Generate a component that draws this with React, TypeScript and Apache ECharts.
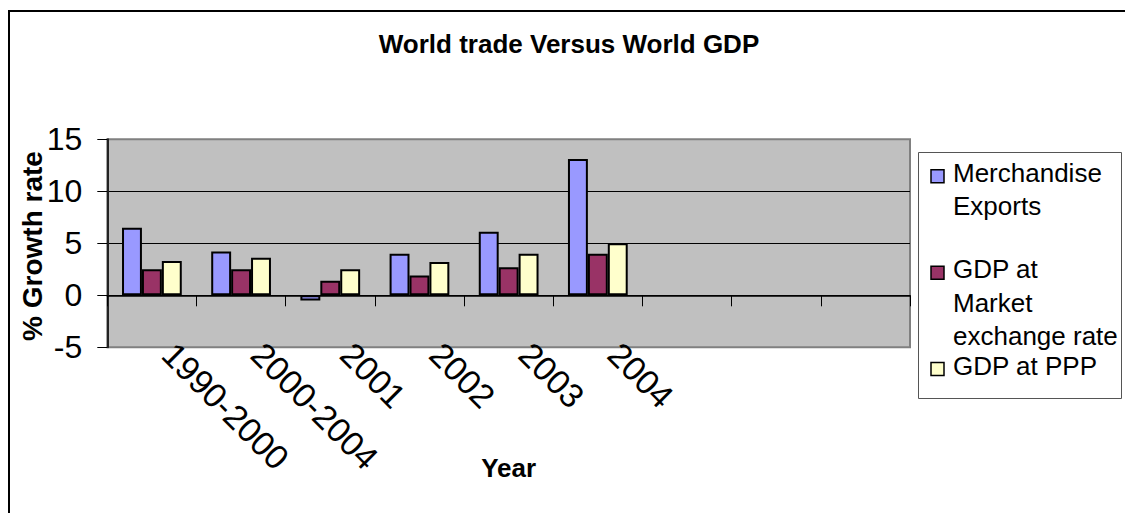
import React, { useEffect, useRef } from "react";
import * as echarts from "echarts";

// Growth rates (%) by period
const categories = ["1990-2000", "2000-2004", "2001", "2002", "2003", "2004", "", "", ""];
const merchandiseExports = [6.5, 4.2, -0.5, 4.0, 6.1, 13.1, null, null, null];
const gdpMarketRate = [2.5, 2.5, 1.4, 1.9, 2.7, 4.0, null, null, null];
const gdpPPP = [3.3, 3.6, 2.5, 3.2, 4.0, 5.0, null, null, null];

const seriesNames = ["Merchandise Exports", "GDP at Market exchange rate", "GDP at PPP"];
const legendLines = [["Merchandise", "Exports"], ["GDP at", "Market", "exchange rate"], ["GDP at PPP"]];
const seriesColors = ["#9999FF", "#993366", "#FFFFCC"];

const yTicks = [-5, 0, 5, 10, 15];

const FONT = "'Liberation Sans', Arial, Helvetica, sans-serif";

export default function App() {
  const ref = useRef<HTMLDivElement>(null);

  useEffect(() => {
    if (!ref.current) return;
    const chart = echarts.init(ref.current, null, { renderer: "svg" });

    const seriesData = [merchandiseExports, gdpMarketRate, gdpPPP];

    // Legend box drawn by hand: the swatch sits beside the first line of each entry
    const legendBaselines = [181.7, 278.3, 374.5];
    const legendLineStep = 33.5;
    const legendElements: any[] = [
      {
        type: "rect",
        shape: { x: 918.5, y: 152.5, width: 203, height: 246 },
        style: { fill: "#ffffff", stroke: "#555555", lineWidth: 1 },
        z: 10,
      },
    ];
    seriesNames.forEach((_, i) => {
      const b = legendBaselines[i];
      legendElements.push({
        type: "rect",
        shape: { x: 931, y: b - 12, width: 13, height: 13 },
        style: { fill: seriesColors[i], stroke: "#000000", lineWidth: 1.5 },
        z: 11,
      });
      legendLines[i].forEach((line, k) => {
        legendElements.push({
          type: "text",
          x: 953,
          y: b + k * legendLineStep - 9,
          style: {
            text: line,
            font: `26px ${FONT}`,
            fill: "#000000",
            lineHeight: 26,
            textAlign: "left",
            textVerticalAlign: "middle",
          },
          z: 11,
        });
      });
    });

    chart.setOption({
      animation: false,
      backgroundColor: "#ffffff",
      grid: {
        left: 107.3,
        top: 139.3,
        right: 215,
        bottom: 165.7,
        show: true,
        backgroundColor: "#C0C0C0",
        borderColor: "#808080",
        borderWidth: 2,
        containLabel: false,
        outerBoundsMode: "none",
      },
      xAxis: {
        type: "category",
        data: categories,
        boundaryGap: true,
        axisLine: { show: true, onZero: true, lineStyle: { color: "#000000", width: 1.5 } },
        axisTick: { show: true, inside: false, length: 11, alignWithLabel: false, lineStyle: { color: "#000000", width: 1 } },
        axisLabel: {
          rotate: -45,
          margin: 9,
          interval: 0,
          fontSize: 34,
          fontFamily: FONT,
          color: "#000000",
          align: "left",
          verticalAlign: "bottom",
          padding: [0, 0, 0, 6],
        },
        name: "Year",
        nameLocation: "middle",
        nameGap: 108,
        nameMoveOverlap: false,
        nameTextStyle: { fontSize: 26, fontWeight: "bold", fontFamily: FONT, color: "#000000" },
        splitLine: { show: false },
      },
      yAxis: {
        type: "value",
        min: yTicks[0],
        max: yTicks[yTicks.length - 1],
        interval: 5,
        axisLine: { show: true, lineStyle: { color: "#222222", width: 2 } },
        axisTick: { show: true, inside: false, length: 10, lineStyle: { color: "#000000", width: 1 } },
        axisLabel: { margin: 25, fontSize: 32, fontFamily: FONT, color: "#000000" },
        splitLine: {
          show: true,
          lineStyle: { color: ["#808080", "#000000", "#000000", "#000000", "#808080"], width: 1 },
        },
      },
      series: seriesNames.map((name, i) => ({
        name,
        type: "bar",
        data: seriesData[i],
        barGap: "0%",
        barCategoryGap: "33%",
        itemStyle: { color: seriesColors[i], borderColor: "#000000", borderWidth: 2 },
      })),
      graphic: [
        {
          type: "rect",
          shape: { x: 9, y: 11, width: 1200, height: 600 },
          style: { fill: "none", stroke: "#000000", lineWidth: 2 },
          z: 10,
        },
        {
          type: "text",
          x: 569,
          y: 44,
          style: {
            text: "World trade Versus World GDP",
            font: `bold 26px ${FONT}`,
            fill: "#000000",
            textAlign: "center",
            textVerticalAlign: "middle",
          },
          z: 11,
        },
        {
          // value axis title, reading bottom to top
          type: "text",
          x: 32,
          y: 246,
          rotation: Math.PI / 2,
          style: {
            text: "% Growth rate",
            font: `bold 28px ${FONT}`,
            fill: "#000000",
            textAlign: "center",
            textVerticalAlign: "middle",
          },
          z: 11,
        },
        ...legendElements,
      ],
    });

    return () => chart.dispose();
  }, []);

  return (
    <div
      ref={ref}
      style={{ position: "absolute", left: 0, top: 0, width: 1125, height: 513 }}
    />
  );
}
